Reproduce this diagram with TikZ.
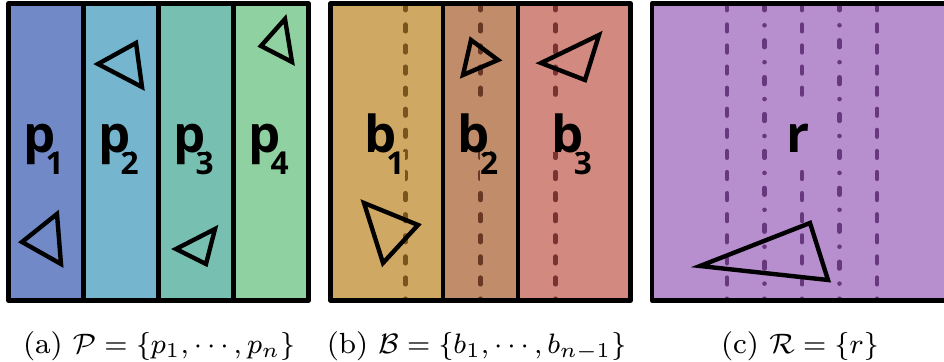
\documentclass[tikz,border=0pt]{standalone}
\usepackage{fontspec}
\newfontfamily\lblfont{Open Sans}
\usetikzlibrary{positioning}
\definecolor{pA}{RGB}{113,137,199}
\definecolor{pB}{RGB}{117,181,206}
\definecolor{pC}{RGB}{119,192,177}
\definecolor{pD}{RGB}{143,209,161}
\definecolor{bA}{RGB}{207,168,99}
\definecolor{bB}{RGB}{192,140,105}
\definecolor{bC}{RGB}{210,137,128}
\definecolor{rA}{RGB}{183,142,206}
\definecolor{dA}{RGB}{120,84,30}
\definecolor{dB}{RGB}{104,56,36}
\definecolor{dC}{RGB}{120,52,50}
\definecolor{dR}{RGB}{104,56,126}
\begin{document}
\begin{tikzpicture}[
    border/.style={line width=1.3pt, line join=round},
    tri/.style={line width=1.25pt},
    dashln/.style={line width=1.3pt, line cap=round, dash pattern=on 1.9pt off 4.1pt},
    dotdash/.style={line width=1.3pt, line cap=round, dash pattern=on 1.9pt off 4.3pt on 0pt off 4.3pt},
    lbl/.style={font=\lblfont\bfseries\fontsize{14.5}{15}\selectfont, inner sep=0pt, text height=15pt, text depth=0pt},
    sub/.style={font=\lblfont\bfseries\fontsize{9}{10}\selectfont, inner sep=0pt, text height=6.4pt, text depth=2.6pt, anchor=base west},
    captxt/.style={font=\fontsize{8.3}{10}\selectfont, anchor=base}]
  \useasboundingbox (0,0) rectangle (9.44,-3.62);
  % (a) four strips p_i, width 0.75
  \foreach \i/\c in {1/pA,2/pB,3/pC,4/pD} {
    \fill[\c] ({0.085+(\i-1)*0.75},-0.035) rectangle ({0.085+\i*0.75},-3.005);
    \node[sub, fill=\c] (sp\i) at ({0.085+(\i-0.5)*0.75-0.01},-1.75) {\i};
    \node[lbl, fill=\c, base left=-3.2pt of sp\i, yshift=6.5pt] (lp\i) {p};
  }
  \draw[tri] (0.22,-2.42) -- (0.57,-2.14) -- (0.61,-2.64) -- cycle;
  \draw[tri] (0.98,-0.64) -- (1.36,-0.43) -- (1.42,-0.87) -- cycle;
  \draw[tri] (1.76,-2.49) -- (2.15,-2.29) -- (2.06,-2.64) -- cycle;
  \draw[tri] (2.61,-0.46) -- (2.85,-0.19) -- (2.92,-0.62) -- cycle;
  \foreach \x in {0.835,1.585,2.335}
    \draw[border] (\x,-0.035) -- (\x,-3.005);
  \draw[border] (0.085,-0.035) rectangle (3.085,-3.005);
  % (b) three strips b_i cut on the middles of the p_i
  \foreach \i/\c/\d/\xa/\xb in {1/bA/dA/3.305/4.43, 2/bB/dB/4.43/5.18, 3/bC/dC/5.18/6.305} {
    \fill[\c] (\xa,-0.035) rectangle (\xb,-3.005);
    \draw[dashln, \d] ({3.305+\i*0.75},-0.035) -- ({3.305+\i*0.75},-3.005);
    \node[sub, fill=\c] (sb\i) at ({(\xa+\xb)/2-0.01},-1.75) {\i};
    \node[lbl, fill=\c, base left=-3.2pt of sb\i, yshift=6.5pt] (lb\i) {b};
  }
  \draw[tri] (3.64,-2.03) -- (4.18,-2.25) -- (3.83,-2.63) -- cycle;
  \draw[tri] (4.71,-0.40) -- (4.98,-0.60) -- (4.63,-0.75) -- cycle;
  \draw[tri] (5.41,-0.63) -- (5.99,-0.35) -- (5.85,-0.80) -- cycle;
  \foreach \x in {4.43,5.18}
    \draw[border] (\x,-0.035) -- (\x,-3.005);
  \draw[border] (3.305,-0.035) rectangle (6.305,-3.005);
  % (c) one region r, both cut sets overlaid
  \fill[rA] (6.52,-0.035) rectangle (9.44,-3.005);
  \foreach \x in {7.27,8.02,8.77}
    \draw[dashln, dR] (\x,-0.035) -- (\x,-3.005);
  \foreach \x in {7.645,8.395}
    \draw[dotdash, dR] (\x,-0.035) -- (\x,-3.005);
  \node[lbl, fill=rA, text depth=4pt, anchor=base] (lr) at (7.98,-1.53) {r};
  \draw[tri] (7.00,-2.66) -- (8.10,-2.23) -- (8.28,-2.80) -- cycle;
  \draw[border] (9.44,-0.035) -- (6.52,-0.035) -- (6.52,-3.005) -- (9.44,-3.005);
  % captions
  \node[captxt] (capa) at (1.59,-3.54) {(a) $\mathcal{P}=\{p_1,\cdots,p_n\}$};
  \node[captxt] (capb) at (4.765,-3.54) {(b) $\mathcal{B}=\{b_1,\cdots,b_{n-1}\}$};
  \node[captxt] (capc) at (8.0,-3.54) {(c) $\mathcal{R}=\{r\}$};
\end{tikzpicture}
\end{document}
